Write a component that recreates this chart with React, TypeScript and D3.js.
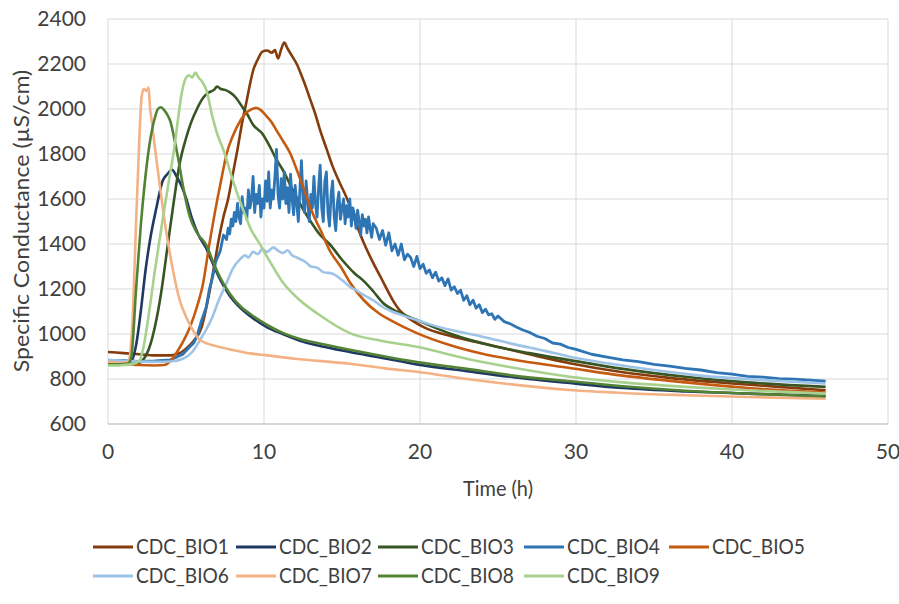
import React from "react";
import * as d3 from "d3";

type P = [number, number];

const xTicks = [0, 10, 20, 30, 40, 50];
const yTicks = [600, 800, 1000, 1200, 1400, 1600, 1800, 2000, 2200, 2400];
const seriesNames = ["CDC_BIO1", "CDC_BIO2", "CDC_BIO3", "CDC_BIO4", "CDC_BIO5", "CDC_BIO6", "CDC_BIO7", "CDC_BIO8", "CDC_BIO9"];
const seriesColors = ["#843C0C", "#1F3864", "#375623", "#2E75B6", "#C55A11", "#9DC3E6", "#F4B183", "#548235", "#A9D18E"];

const bio1: P[] = [[0,920],[1,915],[2,910],[3,905],[4,905],[4.6,915],[5.0,935],[5.5,970],[6.0,1030],[6.4,1150],[6.8,1300],[7.1,1420],[7.4,1520],[7.7,1600],[8.0,1710],[8.3,1820],[8.6,1940],[8.9,2040],[9.1,2110],[9.3,2170],[9.6,2220],[9.9,2255],[10.2,2260],[10.5,2250],[10.7,2262],[10.9,2225],[11.1,2265],[11.3,2295],[11.5,2270],[11.8,2235],[12.1,2200],[12.4,2150],[12.7,2095],[13.0,2035],[13.3,1975],[13.6,1905],[14.0,1825],[14.4,1745],[14.8,1680],[15.3,1605],[15.8,1510],[16.4,1404],[17.0,1316],[17.5,1250],[17.9,1196],[18.3,1145],[18.7,1105],[19.2,1075],[20.2,1032],[22,990],[24,959],[27,910],[29.6,870],[33,830],[36,805],[40,780],[43,765],[46,750]];
const bio2: P[] = [[0,880],[0.5,878],[1.0,875],[1.5,880],[1.8,950],[2.1,1100],[2.4,1280],[2.7,1420],[3.1,1560],[3.5,1680],[3.8,1710],[4.1,1730],[4.4,1700],[4.7,1660],[5.0,1605],[5.4,1510],[5.8,1440],[6.3,1380],[6.8,1300],[7.2,1240],[7.8,1170],[8.5,1115],[9.1,1080],[10.2,1030],[11.2,1000],[12.3,970],[13.4,950],[15.5,920],[17.5,895],[19.8,865],[23,835],[26,808],[29.6,782],[33,760],[37,745],[41,735],[46,725]];
const bio3: P[] = [[0,870],[1,868],[2,872],[2.3,890],[2.7,950],[3.0,1030],[3.4,1180],[3.8,1380],[4.2,1580],[4.6,1760],[5.0,1870],[5.3,1935],[5.7,2000],[6.1,2050],[6.5,2075],[6.8,2085],[7.0,2100],[7.2,2090],[7.5,2085],[7.8,2075],[8.2,2050],[8.6,2010],[8.9,1980],[9.3,1930],[9.9,1890],[10.4,1830],[10.8,1775],[11.2,1730],[11.7,1660],[12.3,1580],[12.9,1510],[13.6,1440],[14.2,1400],[15.0,1330],[15.8,1270],[16.4,1235],[17.0,1190],[17.6,1140],[18.5,1100],[19.8,1062],[22,1000],[24.5,950],[27,915],[29.6,884],[33,845],[37,810],[41,785],[46,765]];
const bio4: P[] = [[0,880],[1,882],[2,878],[3,880],[4,885],[4.8,910],[5.2,940],[5.5,960],[5.7,990],[6.0,1060],[6.3,1120],[6.5,1200],[6.7,1250],[6.9,1320],[7.2,1370],[7.4,1440],
  [7.6,1420],[7.7,1470],[7.8,1445],[7.9,1510],[8.0,1480],[8.1,1540],[8.2,1500],[8.3,1580],[8.4,1520],[8.5,1490],[8.6,1610],[8.7,1540],[8.8,1560],[8.9,1510],[9.0,1640],[9.1,1560],[9.2,1600],[9.3,1700],[9.4,1540],[9.5,1620],[9.6,1580],[9.7,1660],[9.8,1520],[9.9,1600],
  [10.0,1560],[10.1,1680],[10.2,1590],[10.3,1720],[10.4,1560],[10.5,1640],[10.6,1600],[10.7,1700],[10.8,1820],[10.9,1620],[11.0,1560],[11.1,1690],[11.2,1600],[11.3,1720],[11.4,1580],[11.5,1650],[11.6,1540],[11.7,1710],[11.8,1600],[11.9,1530],
  [12.0,1660],[12.1,1580],[12.2,1500],[12.3,1640],[12.4,1770],[12.5,1600],[12.6,1540],[12.7,1680],[12.8,1590],[12.9,1500],[13.0,1620],[13.1,1560],[13.2,1700],[13.3,1580],[13.4,1520],[13.5,1650],[13.6,1750],[13.7,1560],[13.8,1500],[13.9,1680],
  [14.0,1720],[14.1,1540],[14.2,1480],[14.3,1620],[14.4,1680],[14.5,1520],[14.6,1460],[14.7,1580],[14.8,1630],[14.9,1510],[15.0,1560],[15.1,1600],[15.2,1490],[15.3,1570],[15.4,1520],[15.5,1600],[15.6,1480],[15.7,1560],[15.8,1530],[15.9,1470],
  [16.0,1550],[16.1,1500],[16.2,1440],[16.3,1530],[16.4,1480],[16.5,1510],[16.6,1450],[16.7,1520],[16.8,1470],[16.9,1430],[17.0,1490],
  [17.2,1470],[17.4,1420],[17.6,1460],[17.8,1395],[18.0,1450],[18.2,1370],[18.4,1400],[18.6,1350],[18.8,1400],[19.0,1330],[19.2,1355],[19.4,1340],[19.6,1300],[19.8,1345],[20.0,1290],[20.2,1310],[20.4,1270],[20.6,1285],[20.8,1250],[21.0,1275],[21.2,1235],[21.4,1250],[21.6,1215],[21.8,1245],[22.0,1195],[22.2,1210],[22.4,1180],[22.6,1195],[22.8,1150],[23.0,1170],[23.2,1130],[23.4,1150],[23.6,1115],[23.8,1130],[24.0,1095],[24.2,1110],[24.4,1085],[24.6,1090],[24.8,1065],[25.0,1080],
  [25.4,1055],[25.8,1045],[26.2,1030],[26.6,1018],[27.0,1008],[27.5,990],[28.0,980],[28.5,960],[29,955],[29.5,940],[30,932],[31,910],[32,897],[33,885],[34,877],[35,865],[36,857],[37,847],[38,840],[39,828],[40,822],[41,812],[42,808],[43,802],[44,799],[45,795],[46,790]];
const bio5: P[] = [[0,870],[1,868],[2,862],[3,860],[3.6,862],[4.0,880],[4.6,940],[5.25,1030],[5.7,1120],[6.1,1227],[6.5,1400],[7.0,1595],[7.3,1700],[7.6,1800],[8.0,1880],[8.5,1950],[8.8,1980],[9.1,1995],[9.5,2005],[9.8,1995],[10.2,1965],[10.5,1940],[10.8,1905],[11.2,1860],[11.7,1800],[12.1,1730],[12.5,1655],[13.1,1540],[13.7,1450],[14.2,1373],[15.0,1290],[15.5,1230],[16.4,1150],[17.4,1090],[18.1,1062],[19.8,1004],[21.9,951],[24,912],[26.5,880],[29.6,849],[33,815],[37,785],[41,760],[46,740]];
const bio6: P[] = [[0,885],[1,880],[2,878],[3,876],[4,878],[4.8,890],[5.4,920],[5.9,973],[6.3,1020],[6.7,1077],[7.1,1150],[7.6,1227],[8.0,1290],[8.5,1335],[8.8,1350],[9.0,1340],[9.3,1365],[9.6,1355],[9.9,1378],[10.2,1365],[10.6,1385],[10.9,1370],[11.2,1360],[11.5,1372],[11.8,1350],[12.1,1340],[12.4,1330],[12.7,1318],[13.0,1300],[13.4,1295],[13.8,1275],[14.4,1268],[15.0,1240],[15.5,1210],[16.0,1190],[16.6,1165],[17.0,1150],[17.6,1120],[18.2,1100],[18.8,1085],[19.8,1062],[21,1035],[22.5,1010],[24,988],[26,955],[28,925],[29.6,899],[32,870],[35,840],[38,815],[42,795],[46,780]];
const bio7: P[] = [[0,875],[0.5,873],[1.0,872],[1.3,880],[1.6,1100],[1.8,1500],[2.0,1850],[2.15,2050],[2.3,2090],[2.45,2080],[2.6,2095],[2.7,2000],[2.8,1950],[3.0,1832],[3.33,1655],[3.65,1493],[4.2,1271],[4.6,1150],[5.0,1077],[5.5,1010],[5.9,973],[7.0,945],[8.0,929],[9.1,914],[10.2,905],[12,890],[15.5,868],[18,845],[19.8,832],[23,800],[26,775],[29.6,751],[33,738],[37,728],[41,720],[46,712]];
const bio8: P[] = [[0,865],[0.5,865],[1.0,866],[1.3,870],[1.5,900],[1.8,1200],[2.1,1480],[2.4,1700],[2.7,1860],[3.0,1960],[3.2,2000],[3.4,2008],[3.6,1995],[3.8,1975],[4.0,1945],[4.2,1885],[4.5,1780],[4.8,1660],[5.25,1520],[5.7,1450],[6.3,1395],[6.8,1310],[7.2,1250],[7.8,1180],[8.5,1122],[9.1,1090],[10.2,1040],[11.2,1005],[12.3,978],[13.4,960],[15.5,930],[17.5,903],[19.8,875],[23,845],[26,815],[29.6,790],[33,768],[37,748],[41,735],[46,722]];
const bio9: P[] = [[0,860],[0.5,860],[1,862],[1.5,865],[2.0,880],[2.3,950],[2.6,1080],[3.0,1280],[3.5,1507],[3.9,1680],[4.2,1804],[4.5,1960],[4.7,2060],[5.0,2138],[5.2,2150],[5.4,2140],[5.6,2162],[5.8,2140],[6.0,2125],[6.3,2085],[6.7,1964],[7.0,1890],[7.4,1818],[8.0,1684],[8.7,1545],[9.2,1460],[9.7,1404],[10.2,1343],[11.2,1230],[12.3,1150],[13.4,1092],[15.5,1004],[17.5,970],[19.8,943],[23,890],[26,850],[29.6,810],[33,785],[37,765],[41,750],[46,735]];

const seriesData = [bio1, bio2, bio3, bio4, bio5, bio6, bio7, bio8, bio9];

const W = 899, H = 604;
const M = { left: 108, right: 888, top: 19, bottom: 424 };
const FONT = "Lato, 'Open Sans', sans-serif";
const TXT = "#404040";
const FS = 21;

export default function App() {
  const x = d3.scaleLinear().domain([0, 50]).range([M.left, M.right]);
  const y = d3.scaleLinear().domain([600, 2400]).range([M.bottom, M.top]);
  const smooth = d3.line<P>().x(d => x(d[0])).y(d => y(d[1])).curve(d3.curveMonotoneX);
  const straight = d3.line<P>().x(d => x(d[0])).y(d => y(d[1]));

  const legendCols = [93, 236, 378, 524, 669];
  const legendRows = [547, 576];

  return (
    <svg width={W} height={H} style={{ position: "absolute", left: 0, top: 0, background: "#fff" }}>
      <rect width={W} height={H} fill="#fff" />
      {yTicks.map(t => (
        <line key={"gy" + t} x1={M.left} x2={M.right} y1={y(t)} y2={y(t)} stroke="#D9D9D9" strokeWidth={1} />
      ))}
      {xTicks.map(t => (
        <line key={"gx" + t} x1={x(t)} x2={x(t)} y1={M.top} y2={M.bottom} stroke="#D9D9D9" strokeWidth={1} />
      ))}
      <line x1={M.left} x2={M.right} y1={M.bottom} y2={M.bottom} stroke="#BFBFBF" strokeWidth={1} />
      {yTicks.map(t => (
        <text key={"ty" + t} x={86} y={y(t)} dy="0.35em" textAnchor="end" fontFamily={FONT} fontSize={FS} fill={TXT}>{t}</text>
      ))}
      {xTicks.map(t => (
        <text key={"tx" + t} x={x(t)} y={452} dy="0.35em" textAnchor="middle" fontFamily={FONT} fontSize={FS} fill={TXT}>{t}</text>
      ))}
      <text x={498} y={489} dy="0.35em" textAnchor="middle" fontFamily={FONT} fontSize={FS} fill={TXT} transform="translate(498,0) scale(0.95,1) translate(-498,0)">Time (h)</text>
      <text transform={`translate(22,221) rotate(-90) scale(1.1,1)`} dy="0.35em" textAnchor="middle" fontFamily={FONT} fontSize={FS} fill={TXT}>Specific Conductance (µS/cm)</text>
      {seriesData.map((d, i) => (
        <path key={"s" + i} d={(i === 3 ? straight : smooth)(d) || ""} fill="none" stroke={seriesColors[i]} strokeWidth={i === 3 ? 2.8 : 2.6} strokeLinejoin="round" />
      ))}
      {seriesNames.map((n, i) => {
        const cx = legendCols[i % 5];
        const cy = legendRows[Math.floor(i / 5)];
        return (
          <g key={"lg" + i}>
            <line x1={cx} x2={cx + 40} y1={cy} y2={cy} stroke={seriesColors[i]} strokeWidth={3} />
            <text transform={`translate(${cx + 43},${cy}) scale(0.91,1)`} dy="0.35em" fontFamily={FONT} fontSize={FS} fill={TXT}>{n}</text>
          </g>
        );
      })}
    </svg>
  );
}
